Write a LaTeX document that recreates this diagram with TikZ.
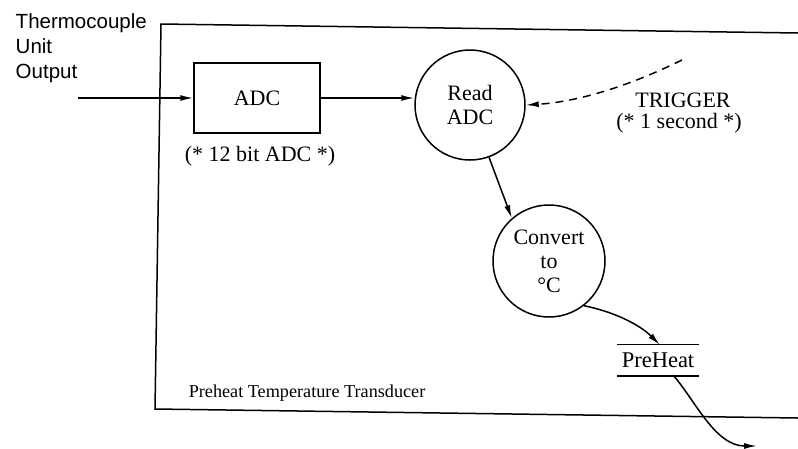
\documentclass[tikz,border=0pt]{standalone}
\usepackage{fontspec}
\setmainfont{Liberation Serif}
\newfontfamily\helv{Liberation Sans}
\usetikzlibrary{arrows.meta}

\begin{document}
\begin{tikzpicture}[x=1pt, y=-1pt,
  line width=1.5pt,
  flow/.style={-{Latex[length=13pt,width=6pt]}},
  procbox/.style={draw, minimum width=126pt, minimum height=70pt, inner sep=0pt,
    font=\fontsize{22}{24}\selectfont},
  bubble/.style={draw, circle, inner sep=0pt, align=center,
    font=\fontsize{22}{24}\selectfont},
  note/.style={inner sep=0pt, font=\fontsize{22}{24}\selectfont},
  sidetext/.style={inner sep=0pt, anchor=base west, font=\helv\fontsize{20.5}{25}\selectfont},
  store/.style={inner sep=0pt, minimum width=80pt, minimum height=30pt,
    font=\fontsize{22.5}{24}\selectfont}
]
  \useasboundingbox (0,0) rectangle (798,448);

  % boundary of the transducer (open on the right)
  \coordinate (tr) at (798,33);
  \coordinate (tl) at (161,24);
  \coordinate (bl) at (155,409);
  \coordinate (br) at (798,418);
  \draw (tr) -- (tl) -- (bl) -- (br);
  \node[inner sep=0pt, anchor=base west, font=\fontsize{18.2}{22}\selectfont] (ptt)
    at (188,397) {Preheat Temperature Transducer};

  % external input label
  \node[sidetext] (th1) at (15,28) {Thermocouple};
  \node[sidetext] (th2) at (15,53) {Unit};
  \node[sidetext] (th3) at (15,78) {Output};

  % processes
  \node[procbox] (adc) at (257,98) {ADC};
  \node[note, anchor=base] (adcnote) at (260,161) {(* 12 bit ADC *)};

  \node[bubble, minimum size=110pt] (read) at (470,105) {Read\\ADC};
  \node[bubble, minimum size=112pt] (conv) at (549,261) {Convert\\to\\°C};

  % data store
  \node[store] (ph) at (658,360) {PreHeat};
  \draw (ph.north west) -- (ph.north east);
  \draw (ph.south west) -- (ph.south east);

  % trigger
  \node[note, anchor=base] (trg) at (683,107) {TRIGGER};
  \node[note, anchor=base] (trgnote) at (679,128) {(* 1 second *)};

  % flows
  \coordinate (in) at (78,98);
  \draw[flow] (in) -- (adc.west);
  \draw[flow] (adc.east) -- (adc.east -| read.west);
  \coordinate (tsrc) at (682,60);
  \draw[flow, dash pattern=on 8pt off 6pt] (tsrc) .. controls (625,88) and (575,102) .. (read.east);
  \draw[flow] (read.-70) -- (conv.131);
  \coordinate (phin) at (660,345);
  \draw[flow] (conv.-52) .. controls (615,312) and (640,325) .. (phin);
  \coordinate (phout) at (673,375);
  \coordinate (out) at (757,446);
  \draw[flow] (phout) .. controls (695,400) and (715,446) .. (out);
\end{tikzpicture}
\end{document}
